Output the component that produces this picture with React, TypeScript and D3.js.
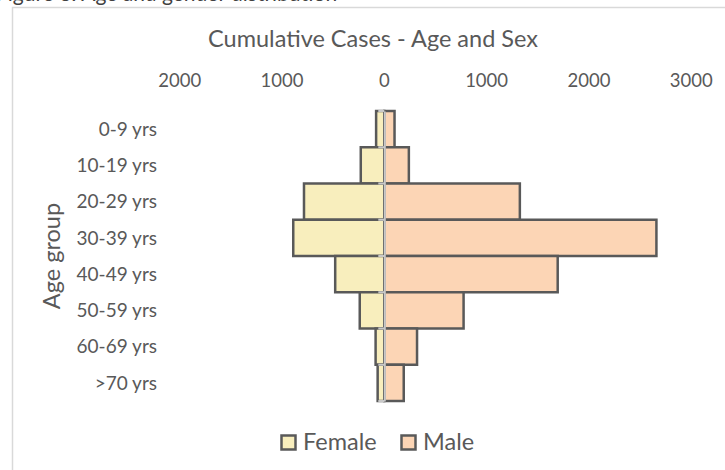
import React, { useEffect, useRef } from 'react';
import * as d3 from 'd3';

// age groups, top to bottom
const ageGroups = ['0-9 yrs', '10-19 yrs', '20-29 yrs', '30-39 yrs', '40-49 yrs', '50-59 yrs', '60-69 yrs', '>70 yrs'];
// cumulative cases per group
const femaleCases = [80, 230, 785, 890, 480, 240, 85, 65];
const maleCases = [100, 240, 1325, 2660, 1695, 775, 320, 190];
// value axis ticks (female side shown as positive)
const xTicks = [-2000, -1000, 0, 1000, 2000, 3000];
const seriesNames = ['Female', 'Male'];

const App = () => {
  const svgRef = useRef<SVGSVGElement>(null);

  useEffect(() => {
    const svg = d3.select(svgRef.current);
    svg.selectAll('*').remove(); // Clear previous render

    const width = 725;
    const height = 470;
    const font = 'Lato, "Open Sans", sans-serif';
    const textColor = '#595959';
    const colors = { Female: '#f8eebd', Male: '#fcd5b5' };

    svg.append('rect').attr('width', width).attr('height', height).attr('fill', 'white');

    // caption above the chart box, mostly cropped off in the source
    svg.append('text')
      .attr('x', -4)
      .attr('y', 1)
      .attr('font-family', font)
      .attr('font-size', 21)
      .attr('fill', '#404040')
      .text('Figure 6: Age and gender distribution');

    // chart box border (runs off the right and bottom of the crop)
    svg.append('path')
      .attr('d', `M${width + 5},7.5 H12.5 V${height + 5}`)
      .attr('fill', 'none')
      .attr('stroke', '#d9d9d9')
      .attr('stroke-width', 1.5);

    const xScale = d3.scaleLinear().domain([-2000, 3000]).range([179.7, 691.2]);
    const yScale = d3.scaleBand().domain(ageGroups).range([111, 401]).padding(0);

    // Title
    svg.append('text')
      .attr('x', 373)
      .attr('y', 47)
      .attr('text-anchor', 'middle')
      .attr('font-family', font)
      .attr('font-size', 23.5)
      .attr('fill', textColor)
      .text('Cumulative Cases - Age and Sex');

    // top value axis labels, no line or ticks
    svg.append('g')
      .selectAll('text')
      .data(xTicks)
      .enter()
      .append('text')
      .attr('x', d => xScale(d))
      .attr('y', 87)
      .attr('text-anchor', 'middle')
      .attr('font-family', font)
      .attr('font-size', 18.5)
      .attr('fill', textColor)
      .text(d => d3.format('d')(Math.abs(d)));

    // bars
    const rows = ageGroups.map((g, i) => ({ group: g, female: femaleCases[i], male: maleCases[i] }));
    const bars = svg.append('g');
    bars.selectAll('.female')
      .data(rows)
      .enter()
      .append('rect')
      .attr('class', 'female')
      .attr('x', d => xScale(-d.female))
      .attr('y', d => yScale(d.group)!)
      .attr('width', d => xScale(0) - xScale(-d.female))
      .attr('height', yScale.bandwidth())
      .attr('fill', colors.Female)
      .attr('stroke', '#595959')
      .attr('stroke-width', 2.5);
    bars.selectAll('.male')
      .data(rows)
      .enter()
      .append('rect')
      .attr('class', 'male')
      .attr('x', xScale(0))
      .attr('y', d => yScale(d.group)!)
      .attr('width', d => xScale(d.male) - xScale(0))
      .attr('height', yScale.bandwidth())
      .attr('fill', colors.Male)
      .attr('stroke', '#595959')
      .attr('stroke-width', 2.5);

    // category axis at zero, drawn over the bars
    const axis = svg.append('g')
      .attr('transform', `translate(${xScale(0)},0)`)
      .call(d3.axisLeft(yScale).tickSize(6).tickSizeOuter(0).tickFormat(() => '') as any);
    axis.select('.domain').attr('stroke', '#c8c8c8').attr('stroke-width', 2);
    // Excel puts ticks between categories
    axis.selectAll('.tick').remove();
    axis.selectAll('.bound')
      .data(d3.range(ageGroups.length + 1))
      .enter()
      .append('line')
      .attr('x1', -6)
      .attr('x2', 0)
      .attr('y1', i => yScale.range()[0] + i * yScale.step())
      .attr('y2', i => yScale.range()[0] + i * yScale.step())
      .attr('stroke', '#c8c8c8')
      .attr('stroke-width', 2);

    // category labels at the low side
    svg.append('g')
      .selectAll('text')
      .data(ageGroups)
      .enter()
      .append('text')
      .attr('x', 157)
      .attr('y', d => yScale(d)! + yScale.bandwidth() / 2)
      .attr('dy', '0.36em')
      .attr('text-anchor', 'end')
      .attr('font-family', font)
      .attr('font-size', 19)
      .attr('fill', textColor)
      .text(d => d);

    // y axis title
    svg.append('text')
      .attr('transform', `translate(60,${(yScale.range()[0] + yScale.range()[1]) / 2}) rotate(-90)`)
      .attr('text-anchor', 'middle')
      .attr('font-family', font)
      .attr('font-size', 23.5)
      .attr('fill', textColor)
      .text('Age group');

    // legend
    const legend = svg.append('g');
    const legendX = [280, 400];
    seriesNames.forEach((name, i) => {
      legend.append('rect')
        .attr('x', legendX[i] + 1.5)
        .attr('y', 435.5)
        .attr('width', 14)
        .attr('height', 14)
        .attr('fill', colors[name as 'Female' | 'Male'])
        .attr('stroke', '#595959')
        .attr('stroke-width', 2.5);
      legend.append('text')
        .attr('x', legendX[i] + 23)
        .attr('y', 450)
        .attr('font-family', font)
        .attr('font-size', 23.5)
        .attr('fill', textColor)
        .text(name);
    });
  }, []);

  return (
    <svg ref={svgRef} width={725} height={470} style={{ position: 'absolute', left: 0, top: 0 }}></svg>
  );
};

export default App;
